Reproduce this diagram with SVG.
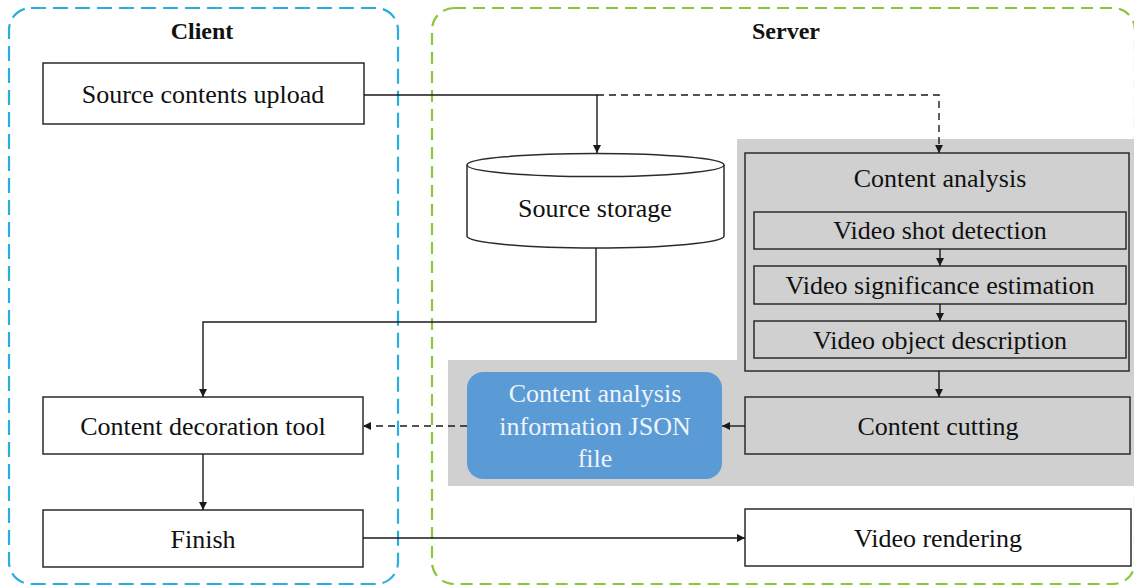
<svg xmlns="http://www.w3.org/2000/svg" width="1134" height="588" viewBox="0 0 1134 588">
  <style>
    .box { fill: #ffffff; stroke: #2b2b2b; stroke-width: 1.5; }
    .gbox { fill: #d0d0d0; stroke: #2b2b2b; stroke-width: 1.5; }
    .lbl { font-family: "Liberation Serif", "Times New Roman", serif; font-size: 26px; fill: #111; text-anchor: middle; dominant-baseline: central; }
    .ttl { font-family: "Liberation Serif", "Times New Roman", serif; font-size: 24px; font-weight: bold; fill: #111; text-anchor: middle; dominant-baseline: central; }
    .jl { font-family: "Liberation Serif", "Times New Roman", serif; font-size: 26px; fill: #eef4fb; text-anchor: middle; dominant-baseline: central; }
    .ln { fill: none; stroke: #1a1a1a; stroke-width: 1.4; marker-end: url(#ah); }
    .dash { stroke-dasharray: 7 5; }
  </style>
  <defs>
    <marker id="ah" viewBox="0 0 10 10" refX="10" refY="5" markerWidth="8" markerHeight="8" markerUnits="userSpaceOnUse" orient="auto">
      <path d="M0,0 L10,5 L0,10 z" fill="#1a1a1a"/>
    </marker>
  </defs>

  <rect width="1134" height="588" fill="#ffffff"/>

  <!-- swimlanes -->
  <g id="client-lane">
    <rect x="9" y="8" width="389" height="576" rx="22" fill="none" stroke="#2aaee0" stroke-width="2.2" stroke-dasharray="15 7"/>
    <text class="ttl" x="202" y="31">Client</text>
  </g>
  <g id="server-lane">
    <rect x="432" y="8" width="703" height="576" rx="22" fill="none" stroke="#8cc63e" stroke-width="2.2" stroke-dasharray="12 7"/>
    <text class="ttl" x="786" y="31">Server</text>
  </g>

  <!-- shaded processing area -->
  <g id="processing-area">
    <polygon points="737,139 1134,139 1134,486 448,486 448,360 737,360" fill="#d0d0d0"/>
  </g>

  <g id="source-upload">
    <rect class="box" x="43" y="63" width="321" height="61"/>
    <text class="lbl" x="203" y="94">Source contents upload</text>
  </g>

  <g id="source-storage">
    <path d="M467,165 V236 A128.5,12 0 0 0 724,236 V165" fill="#ffffff" stroke="#2b2b2b" stroke-width="1.5"/>
    <ellipse cx="595.5" cy="165" rx="128.5" ry="11.5" fill="#ffffff" stroke="#2b2b2b" stroke-width="1.5"/>
    <text class="lbl" x="595" y="208">Source storage</text>
  </g>

  <g id="content-analysis">
    <rect class="gbox" x="745" y="153" width="384" height="218"/>
    <text class="lbl" x="940" y="178">Content analysis</text>
  </g>
  <g id="shot-detection">
    <rect class="gbox" x="754" y="212" width="372" height="37"/>
    <text class="lbl" x="940" y="230">Video shot detection</text>
  </g>
  <g id="significance-estimation">
    <rect class="gbox" x="754" y="266" width="372" height="38"/>
    <text class="lbl" x="940" y="285">Video significance  estimation</text>
  </g>
  <g id="object-description">
    <rect class="gbox" x="754" y="321" width="372" height="37"/>
    <text class="lbl" x="940" y="340">Video object description</text>
  </g>

  <g id="content-cutting">
    <rect class="gbox" x="745" y="397" width="385" height="57"/>
    <text class="lbl" x="938" y="426">Content cutting</text>
  </g>

  <g id="json-file">
    <rect x="467" y="372" width="255" height="107" rx="16" fill="#5b9bd5"/>
    <text class="jl" x="595" y="393">Content analysis</text>
    <text class="jl" x="595" y="426">information JSON</text>
    <text class="jl" x="595" y="458">file</text>
  </g>

  <g id="decoration-tool">
    <rect class="box" x="43" y="397" width="320" height="57"/>
    <text class="lbl" x="203" y="426">Content decoration tool</text>
  </g>

  <g id="finish">
    <rect class="box" x="43" y="510" width="320" height="57"/>
    <text class="lbl" x="203" y="539">Finish</text>
  </g>

  <g id="video-rendering">
    <rect class="box" x="745" y="509" width="386" height="57"/>
    <text class="lbl" x="938" y="538">Video rendering</text>
  </g>

  <!-- connectors -->
  <g id="connectors">
    <polyline class="ln" points="364,95 597,95 597,153"/>
    <polyline class="ln dash" points="597,95 939,95 939,153"/>
    <polyline class="ln" points="596,248 596,322 203,322 203,397"/>
    <line class="ln" x1="940" y1="249" x2="940" y2="266"/>
    <line class="ln" x1="940" y1="304" x2="940" y2="321"/>
    <line class="ln" x1="939" y1="371" x2="939" y2="397"/>
    <line class="ln" x1="745" y1="426" x2="722" y2="426"/>
    <line class="ln dash" x1="467" y1="426" x2="363" y2="426"/>
    <line class="ln" x1="203" y1="454" x2="203" y2="510"/>
    <line class="ln" x1="363" y1="538" x2="745" y2="538"/>
  </g>
</svg>
